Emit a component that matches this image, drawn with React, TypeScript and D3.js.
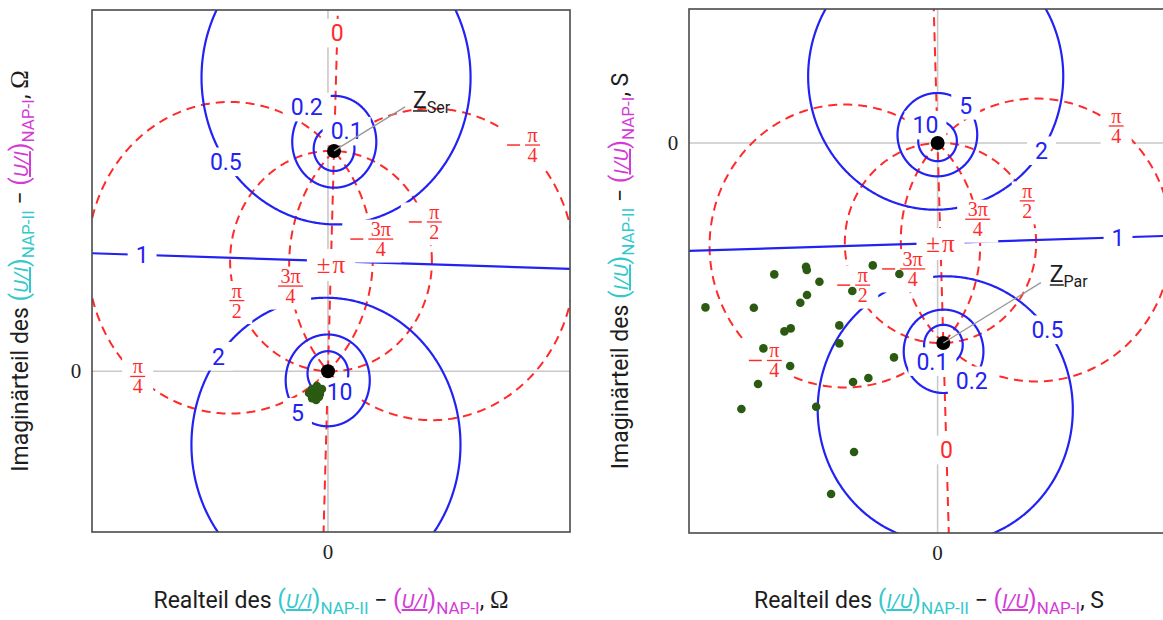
import React from "react";
import * as d3 from "d3";

type Pt = [number, number];

// Magnitude contours: |z − Z| / |z| = k
const magnitudeLevels = [0.1, 0.2, 0.5, 1, 2, 5, 10];
// Phase contours: arg((z − Z) / z), in multiples of π/4
const phaseQuarters = [0, 1, 2, 3, 4, -1, -2, -3];
const phaseLevels = phaseQuarters.map((q) => (q * Math.PI) / 4);

// Poles of the two maps
const zSer: Pt = [0.03, 1.0];
const zPar: Pt = [0.03, -1.0];

// Measured differences, series model (Ω)
const serRe = [-0.079, -0.055, -0.03, -0.094, -0.064, -0.04, -0.079, -0.059, -0.045];
const serIm = [-0.081, -0.067, -0.081, -0.099, -0.099, -0.104, -0.122, -0.131, -0.117];

// Measured differences, parallel model (S)
const parRe = [
  -0.688, -0.684, -0.854, -0.339, -0.2, -0.618, -0.446, -0.683, -0.718, -1.214, -0.961, -0.514, -0.768,
  -0.801, -0.911, -0.514, -0.228, -0.771, -0.939, -0.442, -0.362, -1.026, -0.635, -0.437, -0.557,
];
const parIm = [
  -0.619, -0.635, -0.657, -0.612, -0.655, -0.694, -0.74, -0.76, -0.799, -0.822, -0.824, -0.912, -0.927,
  -0.942, -1.027, -1.002, -1.072, -1.115, -1.205, -1.195, -1.175, -1.33, -1.319, -1.545, -1.755,
];

const tickValues = [0];
const tickLabels = ["0"];

const BLUE = "#2222f4";
const RED = "#ff2b2b";
const GREEN = "#2b5a12";
const CYAN = "#33c8cc";
const MAGENTA = "#d43ad6";
const SANS = "Roboto, 'Noto Sans', sans-serif";
const SERIF = "'Liberation Serif', 'DejaVu Serif', serif";

interface Layout {
  key: string;
  pole: Pt;
  re: number[];
  im: number[];
  poleName: string;
  frame: { left: number; right: number; top: number; bottom: number };
  xDomain: [number, number];
  yDomain: [number, number];
  magLabelPos: number[]; // angle (deg) on the circle, or offset along the k = 1 line
  phaseLabelPos: Record<string, number>; // keyed by quarter multiple
  leader: Pt;
  nameAt: Pt;
  quantity: string;
  unit: string;
  unitSerif: boolean;
  yTitleX: number;
}

const layouts: Layout[] = [
  {
    key: "ser",
    pole: zSer,
    re: serRe,
    im: serIm,
    poleName: "Ser",
    frame: { left: 92, right: 570, top: 10, bottom: 532 },
    xDomain: [-1.17, 1.2],
    yDomain: [-0.73, 1.64],
    magLabelPos: [52, 131, 215, -0.937, 143, 224, 305],
    phaseLabelPos: { "0": 1.535, "4": 0.482, "1": 229.6, "-3": 6.9, "2": 201, "-2": 20.8, "-1": 50, "3": 188 },
    leader: [71, -44],
    nameAt: [79, -43],
    quantity: "U/I",
    unit: "Ω",
    unitSerif: true,
    yTitleX: 28,
  },
  {
    key: "par",
    pole: zPar,
    re: parRe,
    im: parIm,
    poleName: "Par",
    frame: { left: 689, right: 1169, top: 9, bottom: 533 },
    xDomain: [-1.3, 1.21],
    yDomain: [-1.95, 0.67],
    magLabelPos: [235.2, -44.9, 36.8, -0.929, -33.9, 44.7, 128.6],
    phaseLabelPos: { "0": 1.535, "4": 0.505, "1": 53.7, "-3": 191.8, "2": 24.9, "-2": 204.9, "-1": 234, "3": 10.9 },
    leader: [97.5, -60.4],
    nameAt: [106.5, -61],
    quantity: "I/U",
    unit: "S",
    unitSerif: false,
    yTitleX: 628,
  },
];

function magCircle(Z: Pt, k: number) {
  const s = 1 - k * k;
  return { c: [Z[0] / s, Z[1] / s] as Pt, r: (k * Math.hypot(Z[0], Z[1])) / Math.abs(s) };
}

function phaseCircle(Z: Pt, th: number) {
  const cot = Math.cos(th) / Math.sin(th);
  return {
    c: [Z[0] / 2 - (Z[1] / 2) * cot, Z[1] / 2 + (Z[0] / 2) * cot] as Pt,
    r: Math.hypot(Z[0], Z[1]) / (2 * Math.abs(Math.sin(th))),
  };
}

function circlePoints(c: Pt, r: number): Pt[] {
  return d3.range(0, 721).map((i) => {
    const a = (i * Math.PI) / 360;
    return [c[0] + r * Math.cos(a), c[1] + r * Math.sin(a)] as Pt;
  });
}

function onCircle(c: Pt, r: number, deg: number): Pt {
  const a = (deg * Math.PI) / 180;
  return [c[0] + r * Math.cos(a), c[1] + r * Math.sin(a)];
}

interface LabelItem {
  kind: "num" | "frac" | "pm";
  text: string;
  color: string;
  cx: number;
  cy: number;
  q?: number;
}

const NUM_FS = 23;
const FRAC_FS = 20;

function labelBox(l: LabelItem) {
  if (l.kind === "num") {
    const w = l.text.split("").reduce((s, ch) => s + (ch === "." ? 0.27 : 0.56) * NUM_FS, 0);
    return { w, h: 0.72 * NUM_FS, dy: 0 };
  }
  if (l.kind === "pm") return { w: 32, h: 20, dy: 0 };
  const n = Math.abs(l.q!);
  const fw = (n === 3 ? 22 : 12) + 3;
  const T = (l.q! < 0 ? 18 : 0) + fw;
  return { w: T, h: 31, dy: 2 };
}

function Label({ l }: { l: LabelItem }) {
  if (l.kind === "num") {
    return (
      <text x={l.cx} y={l.cy + 0.36 * NUM_FS} textAnchor="middle" fontSize={NUM_FS} fill={l.color} fontFamily={SANS}>
        {l.text}
      </text>
    );
  }
  if (l.kind === "pm") {
    return (
      <text x={l.cx} y={l.cy + 8} textAnchor="middle" fontSize={25} fill={l.color} fontFamily={SERIF}>
        ±<tspan dx={2}>π</tspan>
      </text>
    );
  }
  const q = l.q!;
  const n = Math.abs(q);
  const num = n === 3 ? "3π" : "π";
  const den = n === 2 ? "2" : "4";
  const fw = (n === 3 ? 22 : 12) + 3;
  const T = (q < 0 ? 18 : 0) + fw;
  const fx = l.cx + T / 2 - fw / 2;
  const minusX = l.cx - T / 2;
  return (
    <g fill={l.color} stroke="none" fontFamily={SERIF} fontSize={FRAC_FS}>
      {q < 0 && <line x1={minusX} x2={minusX + 13} y1={l.cy} y2={l.cy} stroke={l.color} strokeWidth={1.5} />}
      <text x={fx} y={l.cy - 3} textAnchor="middle">
        {num}
      </text>
      <line x1={fx - fw / 2} x2={fx + fw / 2} y1={l.cy} y2={l.cy} stroke={l.color} strokeWidth={1.3} />
      <text x={fx} y={l.cy + 17} textAnchor="middle">
        {den}
      </text>
    </g>
  );
}

function Title({
  x,
  y,
  rotate,
  prefix,
  quantity,
  unit,
  unitSerif,
}: {
  x: number;
  y: number;
  rotate: boolean;
  prefix: string;
  quantity: string;
  unit: string;
  unitSerif: boolean;
}) {
  const part = (color: string, sub: string) => [
    <tspan key={"o" + sub} fill={color} fontSize={25}>
      (
    </tspan>,
    <tspan key={"q" + sub} fill={color} fontStyle="italic" fontSize={20} textDecoration="underline">
      {quantity}
    </tspan>,
    <tspan key={"c" + sub} fill={color} fontSize={25}>
      )
    </tspan>,
    <tspan key={"s" + sub} fill={color} fontSize={17} dy={6}>
      {sub}
    </tspan>,
  ];
  return (
    <text
      x={x}
      y={y}
      transform={rotate ? `rotate(-90 ${x} ${y})` : undefined}
      textAnchor="middle"
      fontSize={23}
      fontFamily={SANS}
      fill="#1d1d1d"
    >
      <tspan>{prefix} des </tspan>
      {part(CYAN, "NAP-II")}
      <tspan dy={-6}> − </tspan>
      {part(MAGENTA, "NAP-I")}
      <tspan dy={-6}>, </tspan>
      <tspan fontFamily={unitSerif ? SERIF : SANS} fontSize={unitSerif ? 25 : 23}>
        {unit}
      </tspan>
    </text>
  );
}

function Panel({ L }: { L: Layout }) {
  const { frame } = L;
  const x = d3.scaleLinear().domain(L.xDomain).range([frame.left, frame.right]);
  const y = d3.scaleLinear().domain(L.yDomain).range([frame.bottom, frame.top]);
  const line = d3
    .line<Pt>()
    .x((d) => x(d[0]))
    .y((d) => y(d[1]));
  const Z = L.pole;
  const absZ = Math.hypot(Z[0], Z[1]);
  const mid: Pt = [Z[0] / 2, Z[1] / 2];
  const perp: Pt = [Z[1] / absZ, -Z[0] / absZ];

  // Blue magnitude contours
  const magPaths = magnitudeLevels.map((k) => {
    if (k === 1) {
      return line([
        [mid[0] - 10 * perp[0], mid[1] - 10 * perp[1]],
        [mid[0] + 10 * perp[0], mid[1] + 10 * perp[1]],
      ])!;
    }
    const { c, r } = magCircle(Z, k);
    return line(circlePoints(c, r))!;
  });

  // Red phase contours: one circle per pair (θ, θ − π), plus the line through both poles
  const phasePaths = phaseLevels
    .filter((t) => t > 1e-9 && t < Math.PI - 1e-9)
    .map((t) => {
      const { c, r } = phaseCircle(Z, t);
      return line(circlePoints(c, r))!;
    });
  const poleLine = line([
    [-10 * Z[0], -10 * Z[1]],
    [10 * Z[0], 10 * Z[1]],
  ])!;

  const labels: LabelItem[] = [];
  magnitudeLevels.forEach((k, i) => {
    const pos = L.magLabelPos[i];
    let p: Pt;
    if (k === 1) p = [mid[0] + pos * perp[0], mid[1] + pos * perp[1]];
    else {
      const { c, r } = magCircle(Z, k);
      p = onCircle(c, r, pos);
    }
    labels.push({ kind: "num", text: String(k), color: BLUE, cx: x(p[0]), cy: y(p[1]) });
  });
  phaseQuarters.forEach((q) => {
    const pos = L.phaseLabelPos[String(q)];
    let p: Pt;
    if (q === 0 || Math.abs(q) === 4) p = [pos * Z[0], pos * Z[1]];
    else {
      const { c, r } = phaseCircle(Z, (q * Math.PI) / 4);
      p = onCircle(c, r, pos);
    }
    const kind = q === 0 ? "num" : Math.abs(q) === 4 ? "pm" : "frac";
    labels.push({ kind, text: q === 0 ? "0" : "", color: RED, cx: x(p[0]), cy: y(p[1]), q });
  });

  const clipId = `clip-${L.key}`;
  const px = x(Z[0]);
  const py = y(Z[1]);
  const padX = 8;
  const padY = 6;

  return (
    <g>
      <defs>
        <clipPath id={clipId}>
          <rect x={frame.left} y={frame.top} width={frame.right - frame.left} height={frame.bottom - frame.top} />
        </clipPath>
      </defs>
      <g clipPath={`url(#${clipId})`}>
        {tickValues.map((v) => (
          <g key={"g" + v} stroke="#c9c9c9" strokeWidth={1.6}>
            <line x1={x(v)} x2={x(v)} y1={frame.top} y2={frame.bottom} />
            <line x1={frame.left} x2={frame.right} y1={y(v)} y2={y(v)} />
          </g>
        ))}
        {phasePaths.map((d, i) => (
          <path key={"p" + i} d={d} fill="none" stroke={RED} strokeWidth={2} strokeDasharray="9 6" />
        ))}
        <path d={poleLine} fill="none" stroke={RED} strokeWidth={2} strokeDasharray="9 6" />
        {magPaths.map((d, i) => (
          <path key={"m" + i} d={d} fill="none" stroke={BLUE} strokeWidth={2.2} />
        ))}
        {labels.map((l, i) => {
          const b = labelBox(l);
          return (
            <rect
              key={"b" + i}
              x={l.cx - b.w / 2 - padX}
              y={l.cy + b.dy - b.h / 2 - padY}
              width={b.w + 2 * padX}
              height={b.h + 2 * padY}
              fill="#ffffff"
            />
          );
        })}
        {labels.map((l, i) => (
          <Label key={"l" + i} l={l} />
        ))}
        {L.re.map((r, i) => (
          <circle key={"d" + i} cx={x(r)} cy={y(L.im[i])} r={4.3} fill={GREEN} />
        ))}
        <circle cx={x(0)} cy={y(0)} r={7} fill="#000" />
        <circle cx={px} cy={py} r={7} fill="#000" />
        <line x1={px} y1={py} x2={px + L.leader[0]} y2={py + L.leader[1]} stroke="#999" strokeWidth={1.4} />
        <g fill="#1d1d1d" fontFamily={SANS}>
          <text x={px + L.nameAt[0]} y={py + L.nameAt[1]} fontSize={23}>
            Z
            <tspan fontSize={16} dy={5}>
              {L.poleName}
            </tspan>
          </text>
          <line
            x1={px + L.nameAt[0]}
            x2={px + L.nameAt[0] + 14}
            y1={py + L.nameAt[1] + 3}
            y2={py + L.nameAt[1] + 3}
            stroke="#1d1d1d"
            strokeWidth={1.5}
          />
        </g>
      </g>
      <rect
        x={frame.left}
        y={frame.top}
        width={frame.right - frame.left}
        height={frame.bottom - frame.top}
        fill="none"
        stroke="#4a4a4a"
        strokeWidth={1.6}
      />
      {tickValues.map((v, i) => (
        <g key={"t" + v} fontFamily={SERIF} fontSize={21} fill="#222" textAnchor="middle">
          <text x={x(v)} y={frame.bottom + 27}>
            {tickLabels[i]}
          </text>
          <text x={frame.left - 16} y={y(v) + 7}>
            {tickLabels[i]}
          </text>
        </g>
      ))}
      <Title
        x={(frame.left + frame.right) / 2}
        y={608}
        rotate={false}
        prefix="Realteil"
        quantity={L.quantity}
        unit={L.unit}
        unitSerif={L.unitSerif}
      />
      <Title
        x={L.yTitleX}
        y={(frame.top + frame.bottom) / 2}
        rotate={true}
        prefix="Imaginärteil"
        quantity={L.quantity}
        unit={L.unit}
        unitSerif={L.unitSerif}
      />
    </g>
  );
}

export default function App() {
  return (
    <svg
      width={1163}
      height={620}
      style={{ position: "fixed", left: 0, top: 0, background: "#fff" }}
    >
      <rect width={1163} height={620} fill="#fff" />
      {layouts.map((L) => (
        <Panel key={L.key} L={L} />
      ))}
    </svg>
  );
}
